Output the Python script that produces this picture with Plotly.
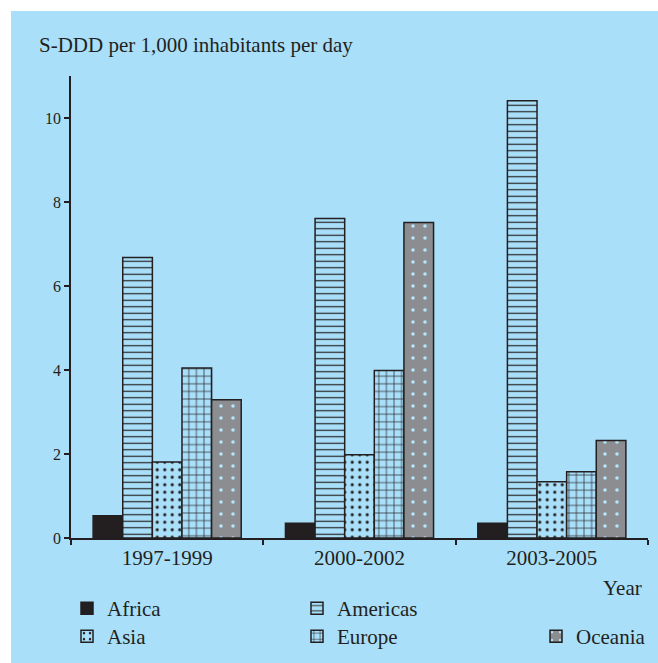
import plotly.graph_objects as go

periods = ["1997-1999", "2000-2002", "2003-2005"]
africa = [0.53, 0.35, 0.35]
americas = [6.68, 7.61, 10.41]
asia = [1.81, 1.98, 1.34]
europe = [4.05, 3.99, 1.58]
oceania = [3.29, 7.51, 2.32]
y_ticks = [0, 2, 4, 6, 8, 10]

BG = "#a9dff9"
INK = "#231f20"
GREY = "#8c8d90"
FONT = "Liberation Serif"

W, H = 658, 663
L, R, T, B = 71, 10, 76, 125
pw, ph = W - L - R, H - T - B

def px(x):
    return (x - L) / pw

def py(y):
    return (H - B - y) / ph

line = dict(color=INK, width=1.5)
series = [
    ("Africa", africa, dict(color=INK, line=line), "legend"),
    ("Americas", americas, dict(color=BG, line=line,
        pattern=dict(shape="-", fgcolor=INK, bgcolor=BG, size=6.5, solidity=0.18,
                     fillmode="overlay", fgopacity=1)), "legend2"),
    ("Asia", asia, dict(color=BG, line=line,
        pattern=dict(shape=".", fgcolor=INK, bgcolor=BG, size=7.5, solidity=0.14,
                     fillmode="overlay", fgopacity=1)), "legend3"),
    ("Europe", europe, dict(color=BG, line=line,
        pattern=dict(shape="+", fgcolor=INK, bgcolor=BG, size=7.6, solidity=0.17,
                     fillmode="overlay", fgopacity=1)), "legend4"),
    ("Oceania", oceania, dict(color=GREY, line=line,
        pattern=dict(shape=".", fgcolor="#b5e6fb", bgcolor=GREY, size=12, solidity=0.07,
                     fillmode="overlay", fgopacity=1)), "legend5"),
]

fig = go.Figure()
for name, vals, marker, lg in series:
    fig.add_trace(go.Bar(name=name, x=periods, y=vals, marker=marker, legend=lg))

leg = dict(orientation="v", xanchor="left", yanchor="top", bgcolor="rgba(0,0,0,0)",
           font=dict(size=21, family=FONT, color=INK), traceorder="normal", tracegroupgap=0)

fig.update_layout(
    width=W, height=H,
    margin=dict(l=L, r=R, t=T, b=B, autoexpand=False),
    paper_bgcolor=BG, plot_bgcolor=BG,
    barmode="group", bargap=0.23, bargroupgap=0,
    font=dict(family=FONT, color=INK, size=21),
    showlegend=True,
    legend=dict(leg, x=px(67), y=py(588)),
    legend2=dict(leg, x=px(297), y=py(588)),
    legend3=dict(leg, x=px(67), y=py(616)),
    legend4=dict(leg, x=px(297), y=py(616)),
    legend5=dict(leg, x=px(536), y=py(616)),
    shapes=[
        dict(type="rect", xref="paper", yref="paper", x0=px(0), x1=px(W), y0=py(0), y1=py(11),
             fillcolor="white", line_width=0, layer="above"),
        dict(type="rect", xref="paper", yref="paper", x0=px(0), x1=px(11), y0=py(H), y1=py(0),
             fillcolor="white", line_width=0, layer="above"),
    ],
    annotations=[
        dict(text="S-DDD per 1,000 inhabitants per day", xref="paper", yref="paper",
             x=px(37), y=py(45), xanchor="left", yanchor="middle", showarrow=False,
             font=dict(size=21, family=FONT, color=INK)),
        dict(text="Year", xref="paper", yref="paper", x=px(644), y=py(588),
             xanchor="right", yanchor="middle", showarrow=False,
             font=dict(size=21, family=FONT, color=INK)),
    ],
)

fig.update_xaxes(showline=True, linecolor=INK, linewidth=1.5, ticks="outside", tickson="boundaries",
                 ticklen=5, tickcolor=INK, tickwidth=1.5, showgrid=False,
                 tickfont=dict(size=21, family=FONT, color=INK))
fig.update_yaxes(range=[0, 11], tickvals=y_ticks, showline=True, linecolor=INK, linewidth=1.5,
                 ticks="outside", ticklen=5, tickcolor=INK, tickwidth=1.5, showgrid=False,
                 zeroline=False, tickfont=dict(size=16, family=FONT, color=INK))

fig.write_html("out.html", config={"displayModeBar": False},
               post_script="document.body.style.margin='0px';document.body.style.overflow='hidden';")
